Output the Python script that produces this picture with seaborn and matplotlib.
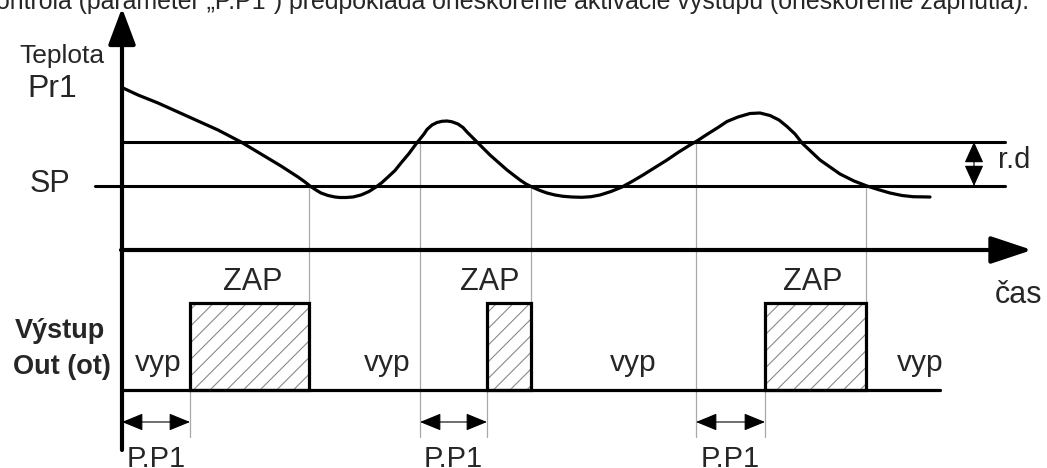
import numpy as np
import matplotlib
matplotlib.use("Agg")
import matplotlib.pyplot as plt
import seaborn as sns

# Temperature curve (x = time px, y = temperature px, y grows downwards)
curve_x = [123, 138, 158, 178, 198, 218, 241, 261, 281, 298, 305, 310, 316, 321, 328, 335,
           340, 346, 353, 361, 369, 376, 382, 388, 395, 401, 409, 416, 420, 424, 427, 432,
           437, 442, 447, 452, 458, 463, 467, 472, 477, 490, 507, 520, 526, 532, 540, 547,
           555, 563, 572, 582, 591, 600, 611, 622, 632, 643, 655, 667, 678, 690, 697, 703,
           710, 718, 727, 738, 750, 760, 770, 779, 787, 795, 802, 811, 820, 840, 854, 867,
           878, 890, 902, 913, 930]
curve_y = [88, 95, 103, 112, 121, 130, 142, 154, 166, 177, 182, 186, 190, 193, 195.5, 197,
           197.5, 197.5, 197, 195, 191.5, 187, 182.5, 177, 170.5, 163, 153.5, 144, 139, 134, 129.5, 125,
           122.5, 121.3, 121, 121.8, 124, 127.5, 132, 137, 142, 155, 170, 180, 184, 187, 190.5, 193,
           195, 196.3, 197, 197.3, 196.7, 195, 191.5, 187, 181.5, 175, 167.5, 160, 152.5, 145, 141, 137,
           132.5, 127.5, 121.5, 117, 113.5, 113, 115.5, 120, 126.5, 134, 143, 151.5, 160, 174, 181, 186,
           189.5, 193, 195.5, 196.7, 197]

# levels
SP_LEVEL = 186
RD_LEVEL = 142
TIME_AXIS = 250
OUT_LOW = 390
OUT_HIGH = 303

# switching events
delay_start = [122, 420, 696]
zap_on = [190, 487, 765]
zap_off = [309, 531, 866]
zap_centers = [253, 490, 813]
vyp_x = [158, 387, 633, 920]

sns.set_theme(style="white")
plt.rcParams["font.family"] = ["Liberation Sans", "DejaVu Sans"]
plt.rcParams["hatch.linewidth"] = 0.8

fig = plt.figure(figsize=(10.47, 4.68), dpi=100)
ax = fig.add_axes([0, 0, 1, 1])
ax.set_xlim(0, 1047)
ax.set_ylim(468, 0)
ax.axis("off")

GREY = "#a8a8a8"

# thin grey guide lines
for x in zap_off:
    ax.plot([x, x], [SP_LEVEL, OUT_LOW], color=GREY, lw=0.9, zorder=1)
for x in delay_start[1:]:
    ax.plot([x, x], [RD_LEVEL, 437], color=GREY, lw=0.9, zorder=1)
for x in zap_on:
    ax.plot([x, x], [OUT_LOW, 437], color=GREY, lw=0.9, zorder=1)

# SP and SP + r.d lines
ax.plot([95, 1005], [SP_LEVEL, SP_LEVEL], color="black", lw=2.2, zorder=2)
ax.plot([122, 1005], [RD_LEVEL, RD_LEVEL], color="black", lw=2.2, zorder=2)

# temperature curve
sns.lineplot(x=curve_x, y=curve_y, sort=False, estimator=None, color="black",
             lw=2.3, ax=ax, zorder=3)
ax.lines[-1].set_solid_joinstyle("round")

# axes with arrows
ax.annotate("", xy=(122, 8), xytext=(122, 450),
            arrowprops=dict(arrowstyle="-|>,head_length=1.6,head_width=0.6",
                            mutation_scale=14, color="black", lw=3, shrinkA=0, shrinkB=0))
ax.annotate("", xy=(1032, TIME_AXIS), xytext=(121, TIME_AXIS),
            arrowprops=dict(arrowstyle="-|>,head_length=1.8,head_width=0.6",
                            mutation_scale=14, color="black", lw=3, shrinkA=0, shrinkB=0))

# output baseline and ZAP blocks
ax.plot([122, 940], [OUT_LOW, OUT_LOW], color="black", lw=2.3, zorder=2)
widths = [b - a for a, b in zip(zap_on, zap_off)]
ax.bar(zap_on, OUT_HIGH - OUT_LOW, width=widths, bottom=OUT_LOW, align="edge",
       color="none", edgecolor="#8a8a8a", hatch="//", linewidth=0, zorder=2)
ax.bar(zap_on, OUT_HIGH - OUT_LOW, width=widths, bottom=OUT_LOW, align="edge",
       color="none", edgecolor="black", linewidth=2.3, zorder=3)

# P.P1 delay arrows
for a, b in zip(delay_start, zap_on):
    ax.annotate("", xy=(b, 422), xytext=(a, 422),
                arrowprops=dict(arrowstyle="<|-|>,head_length=1.1,head_width=0.45",
                                mutation_scale=12, color="black", lw=0.8,
                                shrinkA=0, shrinkB=0))
    ax.text((a + b) / 2, 445, "P.P1", ha="center", va="top", fontsize=21)

# r.d arrow
ax.annotate("", xy=(974, RD_LEVEL), xytext=(974, SP_LEVEL),
            arrowprops=dict(arrowstyle="<|-|>,head_length=1.1,head_width=0.5",
                            mutation_scale=12, color="black", lw=0.8,
                            shrinkA=0, shrinkB=0))
ax.text(998, 160, "r.d", ha="left", va="center", fontsize=21)

# labels
ax.text(62, 56, "Teplota", ha="center", va="center", fontsize=19)
ax.text(52, 89, "Pr1", ha="center", va="center", fontsize=23)
ax.text(50, 184, "SP", ha="center", va="center", fontsize=22)
ax.text(1018, 295, "čas", ha="center", va="center", fontsize=22)
for x in zap_centers:
    ax.text(x, 282, "ZAP", ha="center", va="center", fontsize=22)
for x in vyp_x:
    ax.text(x, 363, "vyp", ha="center", va="center", fontsize=21.5)
ax.text(60, 331, "Výstup", ha="center", va="center", fontsize=19.5, fontweight="bold")
ax.text(62, 367, "Out (ot)", ha="center", va="center", fontsize=19.5, fontweight="bold")

# clipped caption at the very top
ax.text(-4, 9, "ontrola (parameter „P.P1“) predpokladá oneskorenie aktivácie výstupu "
        "(oneskorenie zapnutia).", ha="left", va="baseline", fontsize=17.9)

fig.savefig("out.png", dpi=100)
